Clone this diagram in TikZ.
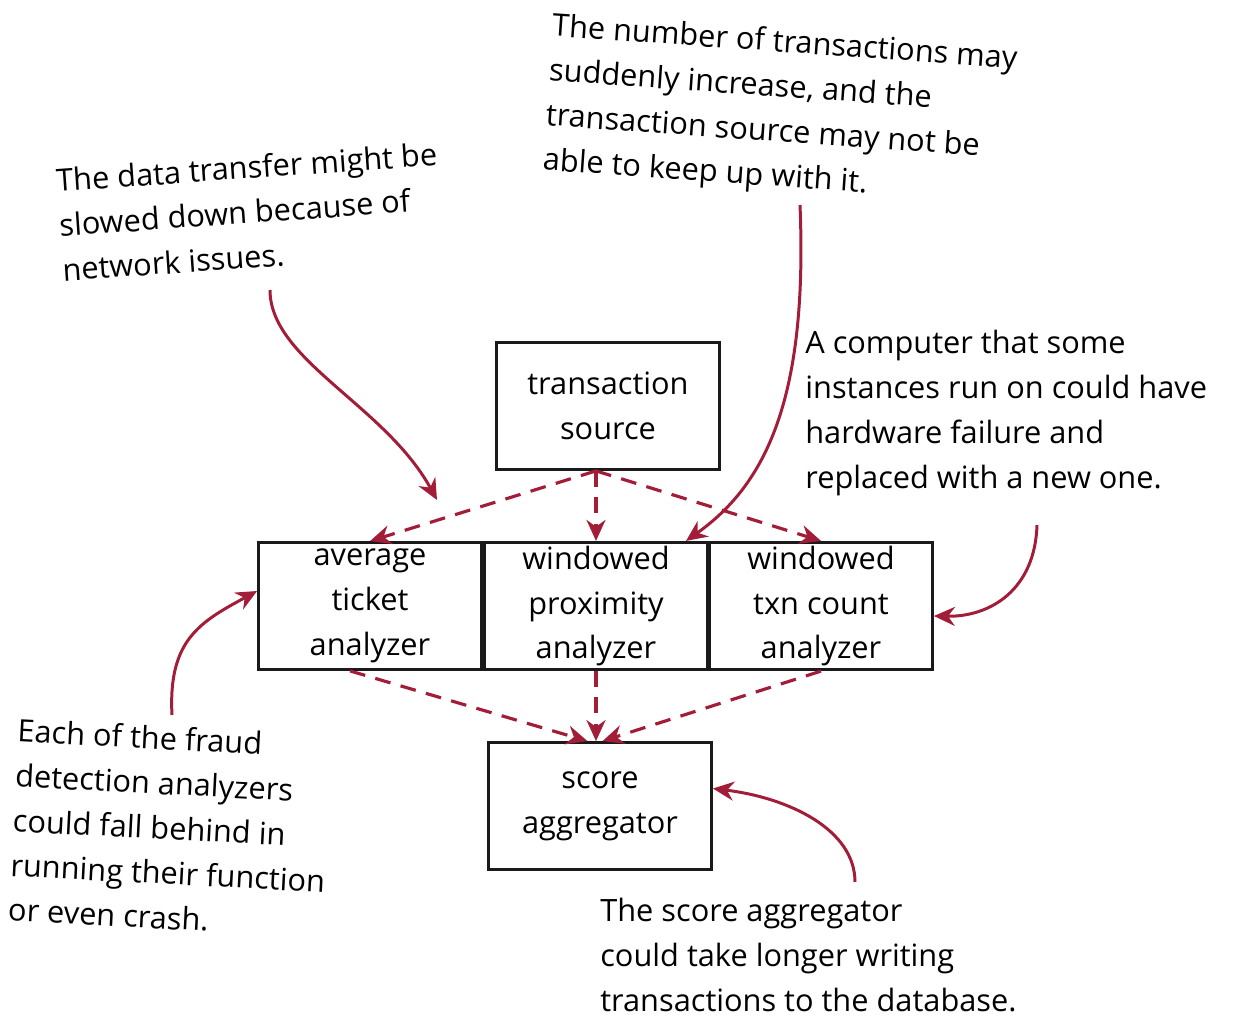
\documentclass[tikz,border=0pt]{standalone}
\usepackage{fontspec}
\setmainfont{Open Sans}
\usepackage{tikz}
\usetikzlibrary{arrows.meta,positioning,calc}
\definecolor{ink}{HTML}{1A1A1A}
\definecolor{alertred}{HTML}{A21D38}
\tikzset{
  stage/.style={draw=ink,fill=white,line width=1.6pt,align=center,
                minimum width=4.46cm,minimum height=2.54cm,inner sep=2pt,
                font=\fontsize{17.5}{25.5}\selectfont},
  remark/.style={align=left,inner sep=0pt,font=\fontsize{17.5}{25.5}\selectfont},
  flowarr/.style={-{Stealth[length=4.2mm,width=3.8mm]},line width=1.8pt,
                  draw=alertred,dash pattern=on 9pt off 6pt},
  notearr/.style={-{Stealth[length=4.2mm,width=3.8mm]},line width=1.7pt,
                  draw=alertred}
}
\begin{document}
\begin{tikzpicture}[x=0.02cm,y=-0.02cm]
    \path[use as bounding box] (0,0) rectangle (1234,1022);

    \node[stage] (src) at (608,406) {transaction\\source};
    \node[stage] (avg) at (370,606) {average\\ticket\\analyzer};
    \node[stage] (prox) at (596,606) {windowed\\proximity\\analyzer};
    \node[stage] (txn) at (821,606) {windowed\\txn count\\analyzer};
    \node[stage] (score) at (600,806) {score\\aggregator};

    \draw[flowarr] (src.south -| prox.north) -- (avg.north);
    \draw[flowarr] (src.south -| prox.north) -- (prox.north);
    \draw[flowarr] (src.south -| prox.north) -- (txn.north);
    \draw[flowarr] ([xshift=-0.4cm]avg.south) -- ([xshift=-0.25cm]score.north);
    \draw[flowarr] (prox.south) -- (prox.south |- score.north);
    \draw[flowarr] (txn.south) -- ([xshift=0.05cm]score.north);

    \node[remark,anchor=north west,rotate=4] (netnote) at (55,168)
      {The data transfer might be\\slowed down because of\\network issues.};
    \node[remark,anchor=north west,rotate=-4] (loadnote) at (553,12)
      {The number of transactions may\\suddenly increase, and the\\
       transaction source may not be\\able to keep up with it.};
    \node[remark,anchor=north west] (hwnote) at (805,330)
      {A computer that some\\instances run on could have\\
       hardware failure and\\replaced with a new one.};
    \node[remark,anchor=north west,rotate=-3] (crashnote) at (18,718)
      {Each of the fraud\\detection analyzers\\could fall behind in\\
       running their function\\or even crash.};
    \node[remark,anchor=north west] (dbnote) at (600,898)
      {The score aggregator\\could take longer writing\\
       transactions to the database.};

    \coordinate (netstart) at (270,290);
    \coordinate (netend) at (437,500);
    \coordinate (loadstart) at (800,205);
    \coordinate (hwstart) at (1037,525);
    \coordinate (crashstart) at (172,715);
    \coordinate (dbstart) at (855,882);

    \draw[notearr] (netstart) .. controls (270,360) and (385,405) .. (netend);
    \draw[notearr] (loadstart) .. controls (808,400) and (765,485) .. ([xshift=1.8cm]prox.north);
    \draw[notearr] (hwstart) .. controls (1035,590) and (990,617) .. ([yshift=-0.2cm]txn.east);
    \draw[notearr] (crashstart) .. controls (168,640) and (200,622) .. ([yshift=0.3cm]avg.west);
    \draw[notearr] (dbstart) .. controls (855,830) and (790,798) .. ([yshift=0.35cm]score.east);
  \end{tikzpicture}
\end{document}
